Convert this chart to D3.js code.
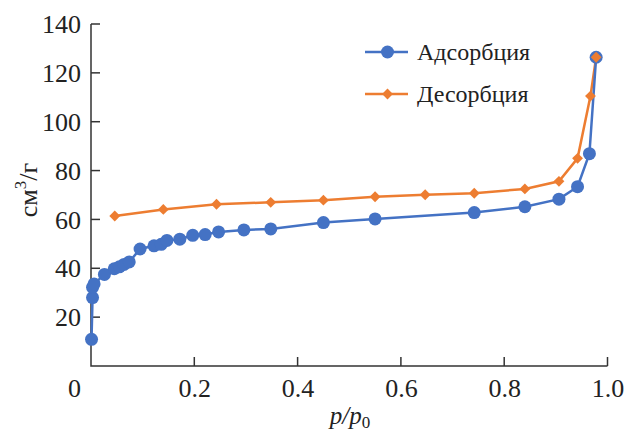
<!DOCTYPE html>
<html>
<head>
<meta charset="utf-8">
<script src="https://cdn.jsdelivr.net/npm/d3@7.9.0/dist/d3.min.js"></script>
<style>
  body { margin: 0; background: #fff; }
  svg text { font-family: "Liberation Serif", "Times New Roman", serif; fill: #222; }
</style>
</head>
<body>
<svg width="625" height="432"></svg>
<script>
// adsorption branch
const adsX = [0.001, 0.003, 0.003, 0.006, 0.026, 0.045, 0.055, 0.064, 0.074, 0.095, 0.122, 0.136, 0.147, 0.172, 0.197, 0.221, 0.247, 0.296, 0.348, 0.45, 0.55, 0.742, 0.84, 0.906, 0.942, 0.965, 0.978];
const adsY = [10.9, 28, 32.2, 33.6, 37.5, 39.8, 40.6, 41.6, 42.6, 47.9, 49.2, 49.8, 51.4, 51.9, 53.5, 53.8, 54.9, 55.7, 56.1, 58.7, 60.2, 62.8, 65.2, 68.3, 73.4, 86.9, 126.4];
// desorption branch
const desX = [0.046, 0.14, 0.243, 0.348, 0.45, 0.55, 0.647, 0.742, 0.84, 0.906, 0.942, 0.967, 0.978];
const desY = [61.4, 64.1, 66.2, 67.0, 67.9, 69.3, 70.1, 70.7, 72.5, 75.6, 85.0, 110.5, 126.4];

const xTicks = [0, 0.2, 0.4, 0.6, 0.8, 1.0];
const yTicks = [20, 40, 60, 80, 100, 120, 140];
const seriesNames = ['Адсорбция', 'Десорбция'];
const colors = ['#4472c4', '#ed7d31'];

const serif = '"Liberation Serif", "Times New Roman", serif';
const svg = d3.select('svg');
const x = d3.scaleLinear().domain([0, 1]).range([91, 607.5]);
const y = d3.scaleLinear().domain([0, 140]).range([366, 24]);

// axes, ticks drawn inward
const xAxis = d3.axisBottom(x).tickValues(xTicks).tickSize(0)
  .tickFormat(d => d === 1 ? '1.0' : d3.format('')(d));
const gx = svg.append('g').attr('transform', 'translate(0,366)').call(xAxis)
  .attr('font-family', serif);
gx.select('.domain').remove();
gx.selectAll('.tick text').style('font-family', serif).attr('font-size', 26)
  .attr('dy', 0).attr('y', 31).attr('dx', d => d === 0 ? -17 : 0);

const yAxis = d3.axisLeft(y).tickValues(yTicks).tickSize(0);
const gy = svg.append('g').attr('transform', 'translate(91,0)').call(yAxis)
  .attr('font-family', serif);
gy.select('.domain').remove();
gy.selectAll('.tick text').style('font-family', serif).attr('font-size', 26)
  .attr('x', -10).attr('dy', '0.33em');

const axisColor = '#333';
svg.append('path').attr('d', `M${x(0)},${y(140)}V${y(0)}H${x(1)}`)
  .attr('fill', 'none').attr('stroke', axisColor).attr('stroke-width', 1.5);
svg.selectAll('.xt').data(xTicks.filter(d => d > 0)).join('line').attr('class', 'xt')
  .attr('x1', d => x(d)).attr('x2', d => x(d)).attr('y1', y(0)).attr('y2', y(0) - 9)
  .attr('stroke', axisColor).attr('stroke-width', 1.5);
svg.selectAll('.yt').data(yTicks).join('line').attr('class', 'yt')
  .attr('x1', x(0)).attr('x2', x(0) + 9).attr('y1', d => y(d)).attr('y2', d => y(d))
  .attr('stroke', axisColor).attr('stroke-width', 1.5);

// axis titles
const yl = svg.append('text').attr('transform', 'translate(37,190) rotate(-90)')
  .attr('text-anchor', 'middle').attr('font-size', 26);
yl.append('tspan').text('см');
yl.append('tspan').attr('font-size', 17).attr('dy', -11).text('3');
yl.append('tspan').attr('dy', 11).text('/г');

const xl = svg.append('text').attr('x', 350).attr('y', 424)
  .attr('text-anchor', 'middle').attr('font-size', 25);
xl.append('tspan').attr('font-style', 'italic').text('p/p');
xl.append('tspan').attr('font-size', 17).attr('dy', 4).text('0');

// series
const line = d3.line().x(d => x(d[0])).y(d => y(d[1]));
const ads = adsX.map((v, i) => [v, adsY[i]]);
const des = desX.map((v, i) => [v, desY[i]]);

svg.append('path').datum(des).attr('d', line).attr('fill', 'none')
  .attr('stroke', colors[1]).attr('stroke-width', 2.5);
svg.append('path').datum(ads).attr('d', line).attr('fill', 'none')
  .attr('stroke', colors[0]).attr('stroke-width', 2.5);

const diamond = d3.symbol().type(d3.symbolDiamond2).size(75);
svg.selectAll('.ads').data(ads).join('circle').attr('class', 'ads')
  .attr('cx', d => x(d[0])).attr('cy', d => y(d[1])).attr('r', 6.5).attr('fill', colors[0]);
svg.selectAll('.des').data(des).join('path').attr('class', 'des')
  .attr('transform', d => `translate(${x(d[0])},${y(d[1])})`)
  .attr('d', diamond).attr('fill', colors[1]);

// legend
const leg = svg.append('g');
seriesNames.forEach((name, i) => {
  const ly = 52 + i * 42;
  leg.append('line').attr('x1', 365).attr('x2', 408).attr('y1', ly).attr('y2', ly)
    .attr('stroke', colors[i]).attr('stroke-width', 2.5);
  if (i === 0) {
    leg.append('circle').attr('cx', 387.5).attr('cy', ly).attr('r', 6.5).attr('fill', colors[i]);
  } else {
    leg.append('path').attr('transform', `translate(387.5,${ly})`).attr('d', diamond).attr('fill', colors[i]);
  }
  leg.append('text').attr('x', 417).attr('y', ly).attr('dy', '0.33em')
    .attr('font-size', 24).text(name);
});
</script>
</body>
</html>
